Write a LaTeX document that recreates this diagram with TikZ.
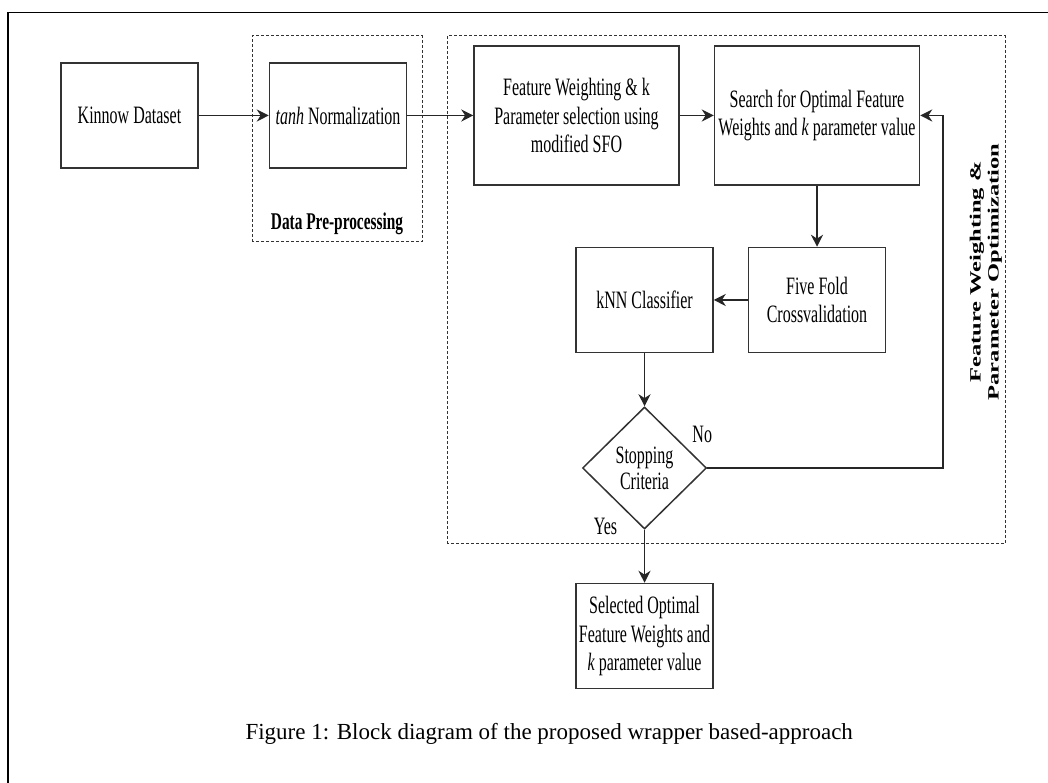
\documentclass[tikz,border=0pt]{standalone}
\usepackage{fontspec}
\setmainfont{Liberation Serif}
\newfontfamily\boxfont{Liberation Serif}[FakeStretch=0.64]
\usepackage{tikz}
\usetikzlibrary{positioning, arrows.meta, shapes.geometric, calc}
\tikzset{
    block/.style={
        rectangle, draw=black!80, line width=1.5pt,
        minimum width=137pt, minimum height=105pt,
        inner sep=2pt, align=center,
        font=\boxfont\fontsize{25}{28.5}\selectfont
    },
    wideblock/.style={
        block, minimum width=205pt, minimum height=139pt
    },
    decision/.style={
        diamond, draw=black!80, line width=1.5pt,
        minimum width=124pt, minimum height=122pt,
        inner sep=0pt, align=center,
        font=\boxfont\fontsize{25}{26}\selectfont
    },
    msg/.style={
        -{Stealth[length=12pt, width=12pt]}, line width=1.6pt, draw=black!85
    },
    groupbox/.style={
        draw=black!80, line width=1pt, dash pattern=on 3pt off 2pt
    },
    tag/.style={
        font=\boxfont\fontsize{25}{28.5}\selectfont
    }
}

\begin{document}
\begin{tikzpicture}[
    x=1pt, y=1pt,
    >=Stealth,
    node distance=53pt and 34pt
]

\useasboundingbox (0,0) rectangle (1048,783);
\draw[line width=1.4pt] (8,0) -- (8,770.5) -- (1048,770.5);

\draw[groupbox] (252,541) rectangle (422,747);
\draw[groupbox] (447,239) rectangle (1005,747);

\node[block] (kinnow) at (129.5,667.5) {Kinnow Dataset};
\node[block, right=70pt of kinnow] (tanhnorm) {\textit{tanh} Normalization};
\node[wideblock, right=66pt of tanhnorm] (fwsel) {Feature Weighting \& k\\Parameter selection using\\modified SFO};
\node[wideblock, right=of fwsel] (search) {Search for Optimal Feature\\Weights and \textit{k} parameter value};

\node[block, below=61pt of search] (fivefold) {Five Fold\\Crossvalidation};
\node[block, left=of fivefold] (knn) {kNN Classifier};
\node[decision, below=of knn] (stop) {Stopping\\Criteria};
\node[block, below=of stop] (result) {Selected Optimal\\Feature Weights and\\\textit{k} parameter value};

\node[font=\boxfont\bfseries\fontsize{24}{28}\selectfont] (prelabel) at (337,559) {Data Pre-processing};
\node[rotate=90, font=\bfseries\fontsize{24.5}{28}\selectfont] (optlabel) at (986,511)
    {\scalebox{1}[0.64]{\begin{tabular}{@{}c@{}}Feature Weighting \&\\Parameter Optimization\end{tabular}}};

\node[tag] (nolbl) at ($(stop.east)+(-5pt,34pt)$) {No};
\node[tag] (yeslbl) at ($(stop.south)+(-39pt,3pt)$) {Yes};

\coordinate (loop) at ($(search.east)+(23pt,0)$);

\draw[msg] (kinnow) -- (tanhnorm);
\draw[msg] (tanhnorm) -- (fwsel);
\draw[msg] (fwsel) -- (search);
\draw[msg] (search) -- (fivefold);
\draw[msg] (fivefold) -- (knn);
\draw[msg] (knn) -- (stop);
\draw[msg] (stop) -- (result);
\draw[msg] (stop.east) -- (stop.east -| loop) |- (search.east);

\node[anchor=base west, font=\fontsize{23}{27}\selectfont] (caption) at (242,43)
    {Figure 1: Block diagram of the proposed wrapper based-approach};

\end{tikzpicture}
\end{document}
